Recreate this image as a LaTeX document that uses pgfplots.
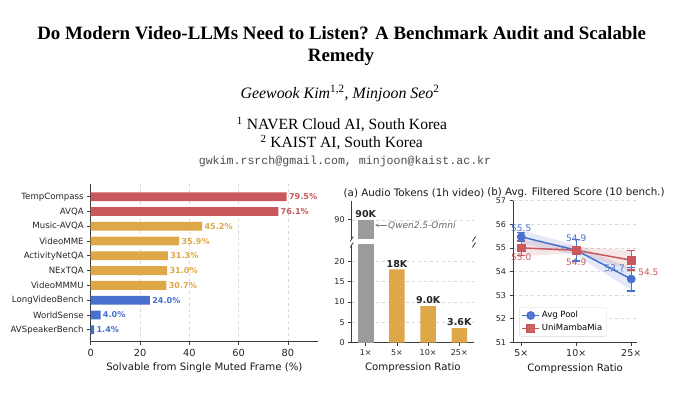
\documentclass[border=0pt]{standalone}
\usepackage{pgfplots}
\pgfplotsset{compat=1.18}
\usepackage{fontspec}
\setmainfont{Liberation Serif}
\newfontfamily\dejavu{DejaVu Sans}
\newfontfamily\lmono{Liberation Mono}
\definecolor{cred}{RGB}{200,88,92}
\definecolor{cgold}{RGB}{222,168,72}
\definecolor{cblue}{RGB}{72,112,206}
\definecolor{cgray}{RGB}{155,155,155}
\definecolor{spine}{RGB}{60,60,60}
\definecolor{gridc}{RGB}{215,215,215}
\pgfplotsset{
  base/.style={
    scale only axis,
    anchor=south west,
    axis lines*=left,
    axis line style={-, spine, line width=0.8pt},
    tick align=outside,
    major tick length=3.5pt,
    tick style={spine, line width=0.8pt},
    /pgf/number format/assume math mode=true,
    ticklabel style={font=\dejavu\fontsize{8}{9}\selectfont, text=black!85},
    label style={font=\dejavu\fontsize{10.2}{12}\selectfont, text=black!90},
    grid style={dashed, gridc, line width=0.5pt},
  }
}
\begin{document}
\begin{tikzpicture}[x=1pt,y=1pt]
\path[use as bounding box, fill=white] (0,0) rectangle (680,394);
% ---------- header ----------
\node[font=\bfseries\fontsize{18.9}{22}\selectfont, anchor=base, inner sep=0] at (341.7,354) {Do Modern Video-LLMs Need to Listen? A Benchmark Audit and Scalable};
\node[font=\bfseries\fontsize{18.9}{22}\selectfont, anchor=base, inner sep=0] at (341,332.3) {Remedy};
\node[font=\itshape\fontsize{15.9}{18}\selectfont, anchor=base, inner sep=0] at (340,295.7) {Geewook Kim\textsuperscript{\upshape 1,2}, Minjoon Seo\textsuperscript{\upshape 2}};
\node[font=\fontsize{15.6}{18}\selectfont, anchor=base, inner sep=0] at (342,264) {\textsuperscript{1} NAVER Cloud AI, South Korea};
\node[font=\fontsize{15.6}{18}\selectfont, anchor=base, inner sep=0] at (341.7,246.3) {\textsuperscript{2} KAIST AI, South Korea};
\node[font=\lmono\fontsize{11.6}{13}\selectfont, anchor=base, inner sep=0, text=black!70] at (345,229) {gwkim.rsrch@gmail.com, minjoon@kaist.ac.kr};

% ---------- left chart ----------
\begin{axis}[base, at={(90.7pt,52.3pt)}, width=227.3pt, height=157.7pt,
  xmin=0, xmax=92.2, ymin=-0.81, ymax=9.86,
  xtick={0,20,40,60,80}, ytick={0,...,9},
  yticklabels={AVSpeakerBench,WorldSense,LongVideoBench,VideoMMMU,NExTQA,ActivityNetQA,VideoMME,Music-AVQA,AVQA,TempCompass},
  xticklabel style={font=\dejavu\fontsize{9.8}{11}\selectfont},
  yticklabel style={font=\dejavu\fontsize{8.6}{10}\selectfont},
  xmajorgrids,
  xlabel={Solvable from Single Muted Frame (\%)},
  xbar, bar width=8.8pt, bar shift=0pt,
  point meta=x,
  nodes near coords={\pgfmathprintnumber[fixed,fixed zerofill,precision=1]{\pgfplotspointmeta}\%},
  nodes near coords style={font=\dejavu\bfseries\fontsize{8.1}{9}\selectfont, anchor=west, inner sep=2.2pt},
]
\addplot[draw=none, fill=cred, every node near coord/.append style={text=cred}] coordinates {(79.5,9) (76.1,8)};
\addplot[draw=none, fill=cgold, every node near coord/.append style={text=cgold}] coordinates {(45.2,7) (35.9,6) (31.3,5) (31.0,4) (30.7,3)};
\addplot[draw=none, fill=cblue, every node near coord/.append style={text=cblue}] coordinates {(24.0,2) (4.0,1) (1.4,0)};
\end{axis}

% ---------- middle chart (broken axis) ----------
\begin{axis}[base, at={(351.7pt,155pt)}, width=122.3pt, height=38.3pt,
  axis x line=none, axis y line*=left,
  xmin=-0.45, xmax=3.47, ymin=85, ymax=95, ytick={90},
  ymajorgrids,
  ybar, bar width=15.6pt, bar shift=0pt,
  point meta=explicit symbolic,
  nodes near coords,
  nodes near coords style={font=\dejavu\bfseries\fontsize{9.5}{11}\selectfont, text=black!85, anchor=south, inner sep=2pt},
]
\addplot[draw=none, fill=cgray] table[meta=lab] {
x y lab
0 90 90K
};
\end{axis}
\begin{axis}[base, at={(351.7pt,51.3pt)}, width=122.3pt, height=97.7pt,
  xmin=-0.45, xmax=3.47, ymin=0, ymax=24, ytick={0,5,...,20},
  xtick={0,1,2,3}, xticklabels={1×,5×,10×,25×},
  ymajorgrids,
  xlabel={Compression Ratio},
  ybar, bar width=15.6pt, bar shift=0pt,
]
\addplot[draw=none, fill=cgray] coordinates {(0,90)};
\addplot[draw=none, fill=cgold, point meta=explicit symbolic, nodes near coords,
  nodes near coords style={font=\dejavu\bfseries\fontsize{9.5}{11}\selectfont, text=black!85, anchor=south, inner sep=2pt}]
  table[meta=lab] {
x y lab
1 18 18K
2 9.0 9.0K
3 3.6 3.6K
};
\end{axis}
% break marks
\foreach \xx in {351.7,474} {
  \draw[spine, line width=0.8pt] (\xx-1.6,152.5) -- (\xx+1.6,157.5);
  \draw[spine, line width=0.8pt] (\xx-1.6,146.5) -- (\xx+1.6,151.5);
}
% annotation
\draw[gray, line width=0.6pt, -stealth] (386.5,168.8) -- (375,168.8);
\node[font=\dejavu\itshape\fontsize{9}{10}\selectfont, text=black!60, anchor=west, inner sep=0] at (388,168.3) {Qwen2.5-Omni};
\node[font=\dejavu\fontsize{10.3}{12}\selectfont, text=black!90] at (414,201) {(a) Audio Tokens (1h video)};

% ---------- right chart ----------
\begin{axis}[base, at={(513pt,51.7pt)}, width=124.3pt, height=141.6pt,
  xmin=-0.15, xmax=2.11, ymin=51, ymax=57, ytick={51,...,57},
  xtick={0,1,2}, xticklabels={5×,10×,25×},
  xticklabel style={font=\dejavu\fontsize{9.5}{11}\selectfont},
  ymajorgrids, clip=false,
  xlabel={Compression Ratio},
  legend style={at={(0.05,0.04)}, anchor=south west, rounded corners=2pt, draw=gridc, fill=white, fill opacity=0.9, text opacity=1,
    font=\dejavu\fontsize{8.5}{10}\selectfont, cells={anchor=west}, row sep=1pt, inner sep=2pt},
]
\addplot[draw=none, fill=cblue, fill opacity=0.15, forget plot] coordinates {(0,55.75) (1,55.1) (2,54.12) (2,53.2) (1,54.7) (0,55.2)} -- cycle;
\addplot[draw=none, fill=cred, fill opacity=0.15, forget plot] coordinates {(0,55.35) (1,55.05) (2,54.9) (2,54.05) (1,54.78) (0,54.65)} -- cycle;
\addplot[cblue, line width=1.5pt, mark=*, mark size=3.6pt,
  error bars/.cd, y dir=both, y explicit,
  error bar style={line width=1.3pt},
  error mark options={line width=1.3pt, mark size=4.2pt, rotate=90}]
  coordinates {(0,55.47) +- (0,0.18) (1,54.9) +- (0,0.45) (2,53.68) +- (0,0.5)};
\addlegendentry{Avg Pool}
\addplot[cred, line width=1.5pt, mark=square*, mark size=3.6pt,
  error bars/.cd, y dir=both, y explicit,
  error bar style={line width=1.3pt},
  error mark options={line width=1.3pt, mark size=4.2pt, rotate=90}]
  coordinates {(0,55.0) +- (0,0.32) (1,54.9) +- (0,0.08) (2,54.48) +- (0,0.42)};
\addlegendentry{UniMambaMia}
\begin{scope}[every node/.style={font=\dejavu\fontsize{9}{10}\selectfont, inner sep=0}]
\node[text=cblue] at (axis cs:0,55.82) {55.5};
\node[text=cred] at (axis cs:0,54.62) {55.0};
\node[text=cblue] at (axis cs:1,55.43) {54.9};
\node[text=cred] at (axis cs:1,54.39) {54.9};
\node[text=cblue] at (axis cs:1.7,54.13) {53.7};
\node[text=cred] at (axis cs:2.31,53.97) {54.5};
\end{scope}
\end{axis}
\node[font=\dejavu\fontsize{10.3}{12}\selectfont, text=black!90] at (576,201) {(b) Avg. Filtered Score (10 bench.)};
\end{tikzpicture}
\end{document}
